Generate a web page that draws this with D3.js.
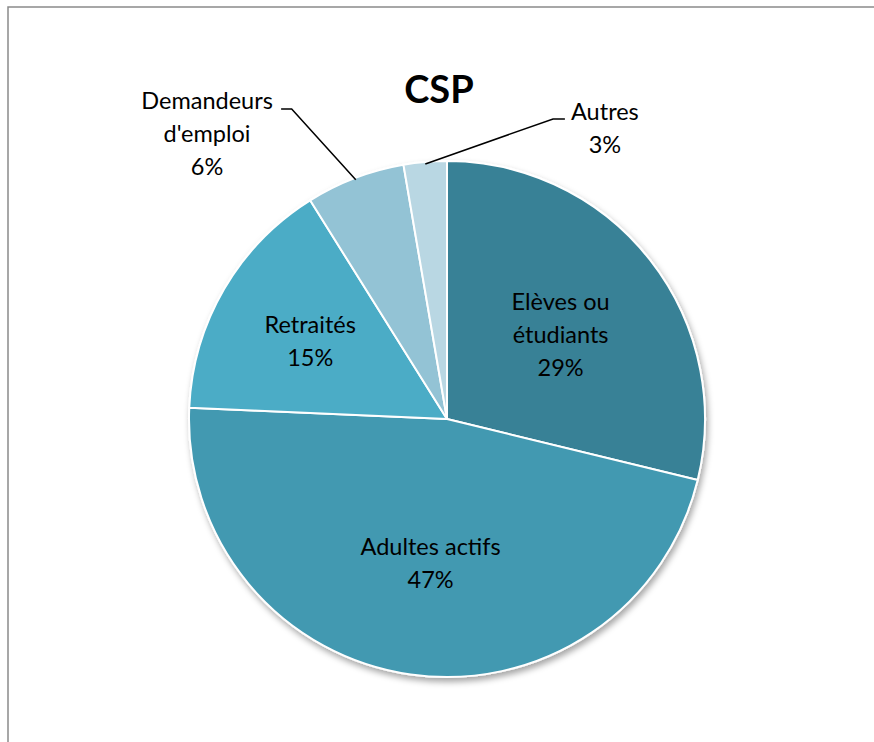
<!DOCTYPE html>
<html>
<head>
<meta charset="utf-8">
<script src="https://cdn.jsdelivr.net/npm/d3@7/dist/d3.min.js"></script>
<style>
  html, body { margin: 0; padding: 0; background: #fff; }
  svg { display: block; }
</style>
</head>
<body>
<div id="chart"></div>
<script>
var title = "CSP";
var categories = ["Elèves ou étudiants", "Adultes actifs", "Retraités", "Demandeurs d'emploi", "Autres"];
var labelLines = [["Elèves ou", "étudiants"], ["Adultes actifs"], ["Retraités"], ["Demandeurs", "d'emploi"], ["Autres"]];
var values = [28.8, 46.9, 15.4, 6.2, 2.7];
var colors = ["#378196", "#4399b1", "#4bacc6", "#93c3d5", "#b9d7e3"];

(function () {
  var width = 874;
  var height = 742;
  var cx = 447;
  var cy = 419;
  var radius = 258;
  var lineHeight = 33;
  var font = "Lato, 'Open Sans', sans-serif";

  // where labels go, in units of the radius (inside = centroid, outside = leader + text)
  var layout = {
    "Elèves ou étudiants": {inside: true, nudge: [0, 5]},
    "Adultes actifs": {inside: true, nudge: [4, 1]},
    "Retraités": {inside: true, nudge: [-12, -5]},
    "Demandeurs d'emploi": {elbow: [-0.602, -1.202], end: -0.643, text: [-0.93, -1.105]},
    "Autres": {elbow: [0.411, -1.163], end: 0.457, text: [0.612, -1.128]}
  };

  var svg = d3.select("#chart").append("svg")
    .attr("width", width)
    .attr("height", height);

  var defs = svg.append("defs");
  var shadow = defs.append("filter")
    .attr("id", "pie-shadow")
    .attr("x", "-20%").attr("y", "-20%")
    .attr("width", "140%").attr("height", "140%");
  shadow.append("feDropShadow")
    .attr("dx", 2)
    .attr("dy", 4)
    .attr("stdDeviation", 3)
    .attr("flood-color", "#000")
    .attr("flood-opacity", 0.35);

  svg.append("rect")
    .attr("width", width)
    .attr("height", height)
    .attr("fill", "#fff");

  // chart frame, only left and top edges show inside the window
  svg.append("path")
    .attr("d", "M8," + height + "V7H" + width)
    .attr("fill", "none")
    .attr("stroke", "#8a8a8a")
    .attr("stroke-width", 1.5);

  svg.append("text")
    .attr("x", 439)
    .attr("y", 103)
    .attr("text-anchor", "middle")
    .attr("font-family", font)
    .attr("font-size", 38)
    .attr("font-weight", 700)
    .attr("fill", "#000")
    .text(title);

  var total = d3.sum(values);
  var pct = d3.format(".0%");

  var pie = d3.pie()
    .sort(null)
    .value(function (d) { return d; });
  var arcs = pie(values);

  var arc = d3.arc()
    .innerRadius(0)
    .outerRadius(radius);
  var labelArc = d3.arc()
    .innerRadius(radius * 0.56)
    .outerRadius(radius * 0.56);
  var edgeArc = d3.arc()
    .innerRadius(radius - 2)
    .outerRadius(radius - 2);

  var g = svg.append("g")
    .attr("transform", "translate(" + cx + "," + cy + ")");

  g.append("g")
    .attr("filter", "url(#pie-shadow)")
    .selectAll("path")
    .data(arcs)
    .join("path")
    .attr("d", arc)
    .attr("fill", function (d, i) { return colors[i]; })
    .attr("stroke", "#fff")
    .attr("stroke-width", 2)
    .attr("stroke-linejoin", "round");

  function writeLines(sel, lines, x, y) {
    var n = lines.length;
    lines.forEach(function (line, k) {
      sel.append("text")
        .attr("x", x)
        .attr("y", y + (k - (n - 1) / 2) * lineHeight)
        .attr("dy", "0.35em")
        .attr("text-anchor", "middle")
        .attr("font-family", font)
        .attr("font-size", 23.5)
        .attr("fill", "#000")
        .text(line);
    });
  }

  var labels = g.append("g");
  arcs.forEach(function (d, i) {
    var conf = layout[categories[i]];
    var lines = labelLines[i].concat([pct(Math.round(values[i]) / 100)]);
    if (conf.inside) {
      var c = labelArc.centroid(d);
      writeLines(labels, lines, c[0] + conf.nudge[0], c[1] + conf.nudge[1]);
    } else {
      var mid = (d.startAngle + d.endAngle) / 2;
      var p = edgeArc.centroid({startAngle: mid, endAngle: mid});
      var ex = conf.elbow[0] * radius;
      var ey = conf.elbow[1] * radius;
      labels.append("polyline")
        .attr("points", [[p[0], p[1]], [ex, ey], [conf.end * radius, ey]].join(" "))
        .attr("fill", "none")
        .attr("stroke", "#000")
        .attr("stroke-width", 1.5);
      writeLines(labels, lines, conf.text[0] * radius, conf.text[1] * radius);
    }
  });
}());
</script>
</body>
</html>
